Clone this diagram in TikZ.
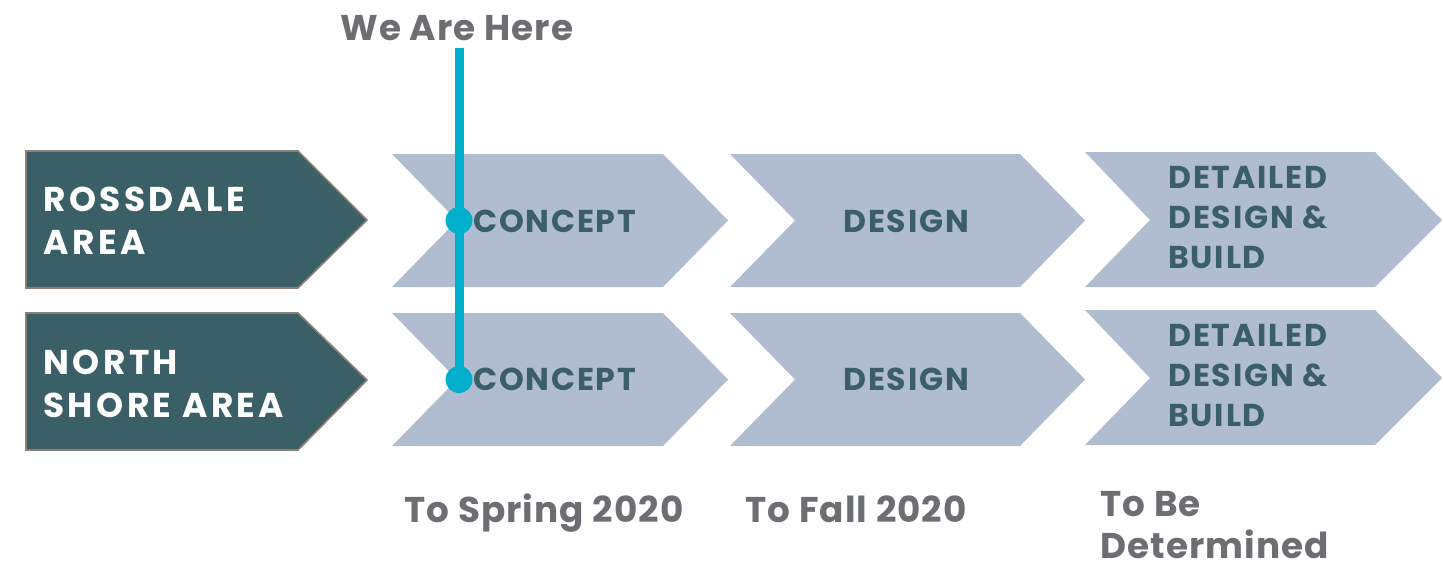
\documentclass[tikz,border=0pt]{standalone}
\usepackage{fontspec}
\setmainfont{Poppins}
\begin{document}
\begin{tikzpicture}[x=0.5pt,y=-0.5pt,
  chev/.style={fill=chevfill},
  area/.style={fill=tealdark,draw=areaborder,line width=0.8pt},
  steptext/.style={text=tealdark,font=\fontsize{15.8}{19.8}\selectfont\bfseries\addfontfeature{LetterSpace=5.5},align=left,inner sep=0pt},
  areatext/.style={text=white,font=\fontsize{17.2}{21.5}\selectfont\bfseries\addfontfeature{LetterSpace=10},align=left,inner sep=0pt},
  greytext/.style={text=greyish,font=\fontsize{17.9}{21}\selectfont\bfseries\addfontfeature{LetterSpace=3},align=left,inner sep=0pt},
  herept/.style={circle,fill=cyanline,minimum size=13.5pt,inner sep=0pt},
  hereline/.style={draw=cyanline,line width=4.5pt}]
\definecolor{chevfill}{HTML}{B0BDD1}
\definecolor{tealdark}{HTML}{3B5F66}
\definecolor{areaborder}{HTML}{8C7F78}
\definecolor{cyanline}{HTML}{00AFCC}
\definecolor{greyish}{HTML}{6D6E72}
\useasboundingbox (0,0) rectangle (1443,568);
% left area boxes
\draw[area] (26,151) -- (298,151) -- (367,220) -- (298,288) -- (26,288) -- cycle;
\draw[area] (26,313) -- (298,313) -- (367,380) -- (298,450) -- (26,450) -- cycle;
\node[areatext,anchor=base west] (ross) at (43,254) {ROSSDALE\\AREA};
\node[areatext,anchor=base west] (north) at (43,417) {NORTH\\SHORE AREA};
% chevrons row 1
\fill[chev] (392,154) -- (663,154) -- (728,220.5) -- (663,287) -- (392,287) -- (457,220.5) -- cycle;
\fill[chev] (730,154) -- (1020,154) -- (1085,220.5) -- (1020,287) -- (730,287) -- (795,220.5) -- cycle;
\fill[chev] (1085,152) -- (1375,152) -- (1442,220) -- (1375,287) -- (1085,287) -- (1150,220) -- cycle;
% chevrons row 2
\fill[chev] (392,313) -- (663,313) -- (728,379.5) -- (663,446) -- (392,446) -- (457,379.5) -- cycle;
\fill[chev] (730,313) -- (1020,313) -- (1085,379.5) -- (1020,446) -- (730,446) -- (795,379.5) -- cycle;
\fill[chev] (1085,310) -- (1375,310) -- (1442,378) -- (1375,445) -- (1085,445) -- (1150,378) -- cycle;
% step texts
\node[steptext,anchor=base west] (c1) at (473,232) {CONCEPT};
\node[steptext,anchor=base west] (c2) at (473,390) {CONCEPT};
\node[steptext,anchor=base west] (d1) at (843,232) {DESIGN};
\node[steptext,anchor=base west] (d2) at (843,390) {DESIGN};
\node[steptext,anchor=base west] (b1) at (1168,268) {DETAILED\\DESIGN \&\\BUILD};
\node[steptext,anchor=base west] (b2) at (1168,426) {DETAILED\\DESIGN \&\\BUILD};
% we are here
\node[greytext,anchor=base west] (here) at (340,40) {We Are Here};
\coordinate (top) at (459,48);
\node[herept] (p1) at (459,220.5) {};
\node[herept] (p2) at (459,379.5) {};
\draw[hereline] (top) -- (p2.center);
% bottom labels
\node[greytext,anchor=base west] (t1) at (404,522) {To Spring 2020};
\node[greytext,anchor=base west] (t2) at (745,522) {To Fall 2020};
\node[greytext,anchor=base west] (t3) at (1100,558) {To Be\\Determined};
\end{tikzpicture}
\end{document}
